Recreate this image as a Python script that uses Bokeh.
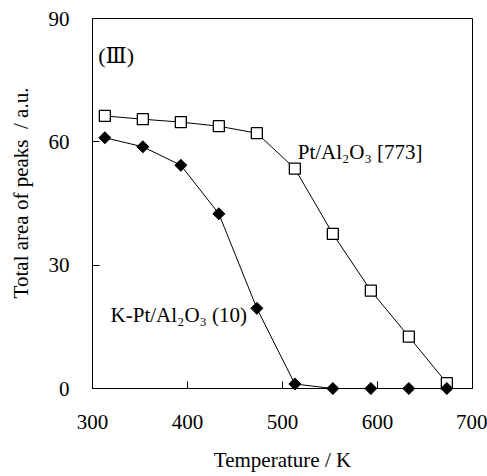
from math import pi
from bokeh.plotting import figure
from bokeh.models import Label, Range1d
from bokeh.embed import file_html
from bokeh.resources import INLINE

# ---- data ----
temperature = [313, 353, 393, 433, 473, 513, 553, 593, 633, 673]
pt_al2o3_773 = [66.3, 65.5, 64.8, 63.8, 62.1, 53.5, 37.6, 23.8, 12.6, 1.3]
k_pt_al2o3_10 = [61.0, 58.8, 54.3, 42.5, 19.5, 1.1, 0.0, 0.0, 0.0, 0.0]
x_ticks = [300, 400, 500, 600, 700]
y_ticks = [0, 30, 60, 90]
x_label = "Temperature / K"
y_label = "Total area of peaks\u00a0 / a.u."
panel_label = "(\u2162)"
label_pt = "Pt/Al\u2082O\u2083 [773]"
label_kpt = "K-Pt/Al\u2082O\u2083 (10)"

FONT = "Liberation Serif, DejaVu Serif"

p = figure(width=487, height=476, output_backend="svg", toolbar_location=None,
           x_range=Range1d(300, 700), y_range=Range1d(0, 90),
           min_border_left=92, min_border_right=15, min_border_top=18,
           min_border_bottom=88)

p.background_fill_color = "white"
p.border_fill_color = "white"
p.outline_line_color = "black"
p.outline_line_width = 1
p.grid.grid_line_color = None

for ax in (p.xaxis, p.yaxis):
    ax.axis_line_color = "black"
    ax.major_tick_line_color = "black"
    ax.major_tick_in = 7
    ax.major_tick_out = 0
    ax.minor_tick_line_color = None
    ax.major_label_text_font = FONT
    ax.major_label_text_font_size = "21px"
    ax.major_label_text_font_style = "normal"
    ax.major_label_text_color = "black"
    ax.axis_label_text_font = FONT
    ax.axis_label_text_font_size = "21px"
    ax.axis_label_text_font_style = "normal"
    ax.axis_label_text_color = "black"

p.xaxis.ticker = x_ticks
p.yaxis.ticker = y_ticks
p.xaxis.major_label_standoff = 26
p.yaxis.major_label_standoff = 23
p.xaxis.axis_label = x_label
p.xaxis.axis_label_standoff = 16
# leading no-break spaces move the visible title upward, as in the reference
p.yaxis.axis_label = "\u00a0" * 4 + y_label
p.yaxis.axis_label_standoff = 13

# series
p.line(temperature, pt_al2o3_773, line_color="black", line_width=1)
p.line(temperature, k_pt_al2o3_10, line_color="black", line_width=1)
r1 = p.scatter(temperature, pt_al2o3_773, marker="square", size=11,
               fill_color="white", line_color="black", line_width=1.3)
r2 = p.scatter(temperature, k_pt_al2o3_10, marker="square", size=8.5, angle=pi / 4,
               fill_color="black", line_color="black", line_width=1)
r1.level = "overlay"
r2.level = "overlay"

p.add_layout(Label(x=306, y=81, text=panel_label, text_align="left",
                   text_baseline="middle", text_font=FONT,
                   text_font_size="22px", text_color="black"))
p.add_layout(Label(x=516, y=57.6, text=label_pt, text_align="left",
                   text_baseline="alphabetic", text_font=FONT,
                   text_font_size="21px", text_color="black"))
p.add_layout(Label(x=319, y=18.0, text=label_kpt, text_align="left",
                   text_baseline="alphabetic", text_font=FONT,
                   text_font_size="21px", text_color="black"))

open("out.html", "w").write(file_html(p, INLINE))
